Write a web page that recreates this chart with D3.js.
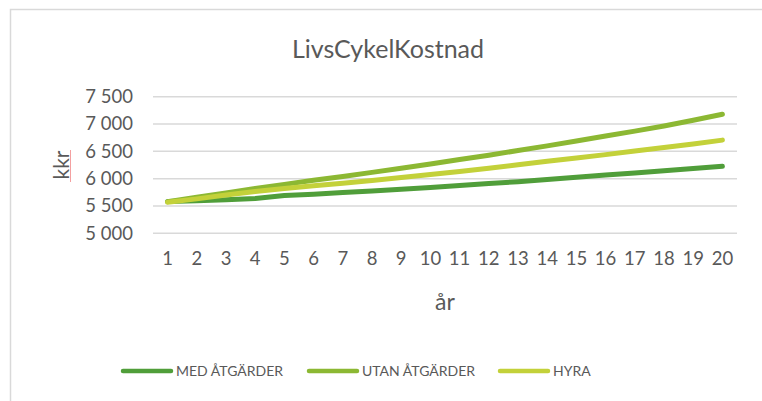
<!DOCTYPE html>
<html>
<head>
<meta charset="utf-8">
<script src="https://cdn.jsdelivr.net/npm/d3@7"></script>
<style>
  html,body{margin:0;padding:0;background:#fff;}
  svg{display:block;}
  text{font-family:Lato,"Open Sans",sans-serif;fill:#595959;}
</style>
</head>
<body>
<svg id="chart" width="762" height="401"></svg>
<script>
// data
var years = [1,2,3,4,5,6,7,8,9,10,11,12,13,14,15,16,17,18,19,20]
var medAtgarder  = [5580,5595,5615,5635,5690,5715,5745,5775,5805,5840,5875,5910,5945,5985,6025,6065,6105,6145,6185,6225]
var utanAtgarder = [5580,5660,5740,5820,5895,5970,6040,6115,6190,6270,6350,6430,6515,6600,6690,6780,6870,6965,7070,7180]
var hyra         = [5570,5630,5700,5765,5820,5870,5915,5965,6020,6075,6130,6190,6255,6320,6380,6440,6505,6570,6635,6705]
var yTicks = [5000,5500,6000,6500,7000,7500]
var seriesNames = ['MED ÅTGÄRDER','UTAN ÅTGÄRDER','HYRA']
var seriesColors = ['#509e3a','#8cb833','#c3d13a']

var svg = d3.select('#chart')

// outer frame (only left/top visible)
svg.append('rect')
    .attr('x',10.5).attr('y',9.5)
    .attr('width',900).attr('height',600)
    .attr('fill','none').attr('stroke','#d9d9d9').attr('stroke-width',1.5)

var x = d3.scaleBand().domain(years).range([153,737])
var y = d3.scaleLinear().domain([5000,7500]).range([233.3,96.7])

// gridlines
svg.append('g').selectAll('line')
    .data(yTicks).enter().append('line')
    .attr('x1',153).attr('x2',737)
    .attr('y1',function(d){return y(d)}).attr('y2',function(d){return y(d)})
    .attr('stroke','#d9d9d9').attr('stroke-width',1.5)

// y tick labels
var fmt = function(d){ return d3.format(',')(d).replace(',',' ') }
var yAxis = svg.append('g').attr('transform','translate(133,0)')
    .call(d3.axisLeft(y).tickValues(yTicks).tickSize(0).tickPadding(0).tickFormat(fmt))
yAxis.select('.domain').remove()
yAxis.selectAll('text').attr('font-size',18.5).attr('fill','#595959')
    .style('font-family','Lato,"Open Sans",sans-serif')

// x tick labels
var xAxis = svg.append('g').attr('transform','translate(0,252)')
    .call(d3.axisBottom(x).tickSize(0).tickPadding(0))
xAxis.select('.domain').remove()
xAxis.selectAll('text').attr('font-size',18.5).attr('fill','#595959')
    .style('font-family','Lato,"Open Sans",sans-serif')

// lines
var line = d3.line()
    .x(function(d,i){ return x(years[i]) + x.bandwidth()/2 })
    .y(function(d){ return y(d) })
var series = [medAtgarder, utanAtgarder, hyra]
svg.append('g').selectAll('path')
    .data(series).enter().append('path')
    .attr('d',line)
    .attr('fill','none')
    .attr('stroke',function(d,i){return seriesColors[i]})
    .attr('stroke-width',5)
    .attr('stroke-linecap','round')
    .attr('stroke-linejoin','round')

// title
svg.append('text').attr('x',388).attr('y',58)
    .attr('text-anchor','middle').attr('font-size',25)
    .text('LivsCykelKostnad')

// axis titles
svg.append('text')
    .attr('transform','translate(69,165) rotate(-90)')
    .attr('text-anchor','middle').attr('font-size',21)
    .text('kkr')
svg.append('line')
    .attr('x1',70.5).attr('x2',70.5).attr('y1',150).attr('y2',182)
    .attr('stroke','#f4a0a0').attr('stroke-width',1)
svg.append('text').attr('x',445).attr('y',310)
    .attr('text-anchor','middle').attr('font-size',23)
    .text('år')

// legend
var legendX = [123,309,500]
var lg = svg.append('g').selectAll('g')
    .data(seriesNames).enter().append('g')
    .attr('transform',function(d,i){ return 'translate('+legendX[i]+',371)' })
lg.append('line')
    .attr('x1',0).attr('x2',48)
    .attr('stroke',function(d,i){return seriesColors[i]})
    .attr('stroke-width',4.5).attr('stroke-linecap','round')
lg.append('text')
    .attr('x',53).attr('dy','0.35em').attr('font-size',14)
    .text(String)
</script>
</body>
</html>
